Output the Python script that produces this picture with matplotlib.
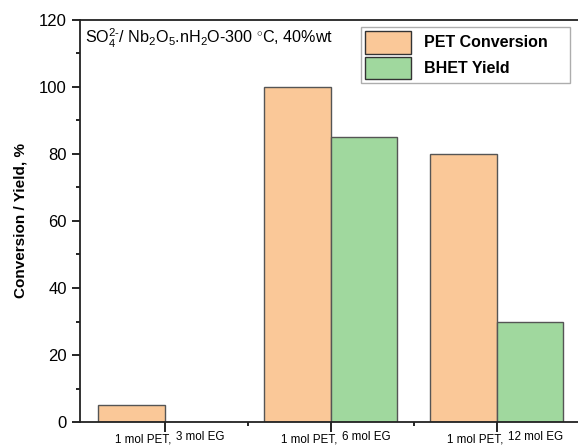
import matplotlib.pyplot as plt
import matplotlib.transforms as mtransforms
import numpy as np

plt.rcParams['font.family'] = ['Liberation Sans', 'DejaVu Sans']
plt.rcParams['mathtext.fontset'] = 'custom'
plt.rcParams['mathtext.rm'] = 'Liberation Sans'
plt.rcParams['mathtext.it'] = 'Liberation Sans:italic'
plt.rcParams['mathtext.bf'] = 'Liberation Sans:bold'

pet_labels = ["1 mol PET,", "1 mol PET,", "1 mol PET,"]
eg_labels = ["3 mol EG", "6 mol EG", "12 mol EG"]
pet_conversion = [5, 100, 80]
bhet_yield = [0, 85, 30]

orange = "#FAC898"
green = "#A0D89E"
edge = "#555555"

fig = plt.figure(figsize=(5.78, 4.46), dpi=100)
ax = fig.add_axes([80 / 578, 1 - 422 / 446, 1 - 80 / 578, (422 - 20) / 446])

x = np.arange(len(eg_labels))
w = 0.4
ax.bar(x - w / 2, pet_conversion, w, color=orange, edgecolor=edge, linewidth=1.0,
       label="PET Conversion")
ax.bar(x + w / 2, bhet_yield, w, color=green, edgecolor=edge, linewidth=1.0,
       label="BHET Yield")

ax.set_xlim(-0.51, 2.49)
ax.set_ylim(0, 120)
ax.set_yticks(np.arange(0, 121, 20))
ax.set_yticks(np.arange(10, 120, 20), minor=True)
ax.set_xticks(x)
ax.set_xticklabels([])
ax.set_xticks([0.5, 1.5], minor=True)

# two-part category labels under each group tick
trans = mtransforms.blended_transform_factory(ax.transData, ax.transAxes)
for xi, p, e in zip(x, pet_labels, eg_labels):
    ax.annotate(p, xy=(xi, 0), xycoords=trans, xytext=(7, -20), textcoords='offset pixels',
                ha='right', va='baseline', fontsize=8.4)
    ax.annotate(e, xy=(xi, 0), xycoords=trans, xytext=(11, -18), textcoords='offset pixels',
                ha='left', va='baseline', fontsize=8.4)

ax.spines['right'].set_visible(False)
for s in ['left', 'bottom', 'top']:
    ax.spines[s].set_linewidth(1.3)
    ax.spines[s].set_color('#222222')

ax.tick_params(axis='y', which='major', direction='out', length=6, width=1.2, labelsize=12)
ax.tick_params(axis='y', which='minor', direction='out', length=3, width=1.2)
ax.tick_params(axis='x', which='major', direction='out', length=7, width=1.2)
ax.tick_params(axis='x', which='minor', direction='out', length=3, width=1.2)

ax.set_ylabel("Conversion / Yield, %", fontsize=11, fontweight='bold', labelpad=8)

ax.text(0.010, 0.982, r"SO$_4^{2\text{-}}$/ Nb$_2$O$_5$.nH$_2$O-300 $^{\circ}$C, 40%wt",
        transform=ax.transAxes, fontsize=11.6, va='top', ha='left')

leg = ax.legend(loc='upper left',
                bbox_to_anchor=((361 - 80) / 498, 1 - 7 / 402 - 0.01, (570 - 361) / 498, 0.01),
                mode='expand', frameon=True, fancybox=False, edgecolor='#999999',
                prop={'weight': 'bold', 'size': 11.5}, handlelength=2.9, handleheight=1.8,
                borderpad=0.25, labelspacing=0.2, handletextpad=0.8, borderaxespad=0)
leg.get_frame().set_linewidth(1.0)
for h in leg.legend_handles:
    h.set_edgecolor('#333333')

fig.savefig("out.png", dpi=100)
